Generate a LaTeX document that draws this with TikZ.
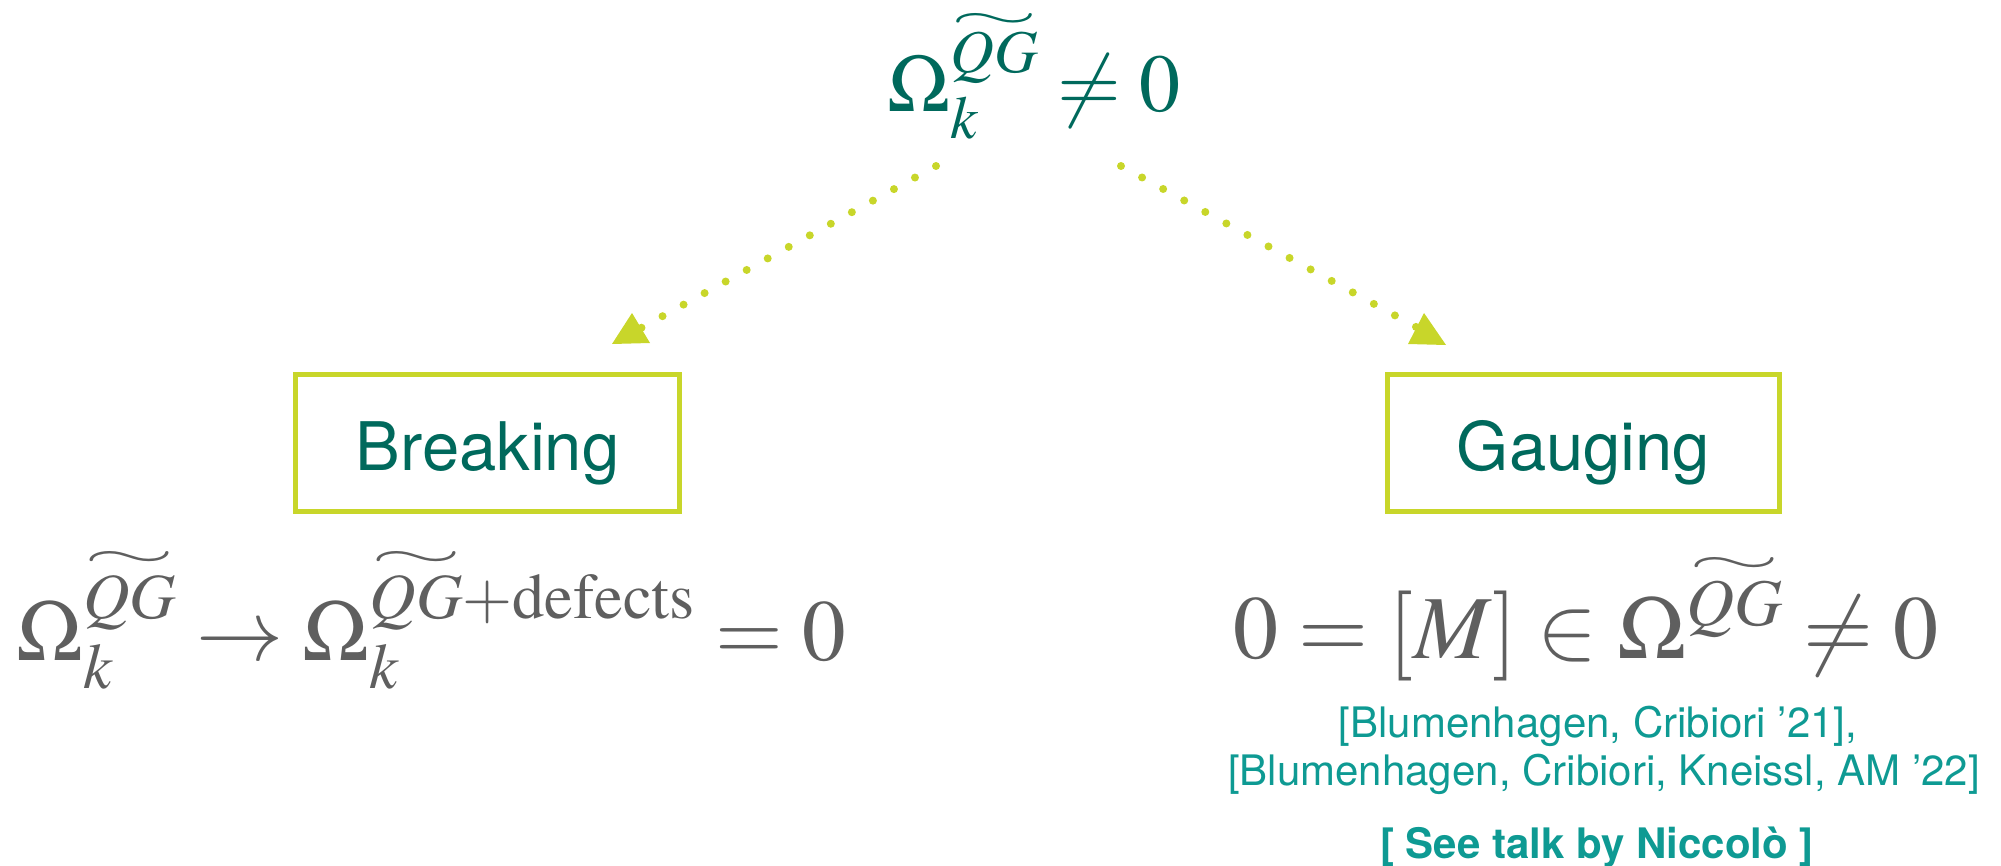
\documentclass[tikz,border=0pt]{standalone}
\usepackage[no-math]{fontspec}
\usepackage{amsmath}
\usepackage{mathptmx}
\usetikzlibrary{calc}
\newfontfamily\hel{TeX Gyre Heros}
\definecolor{tealdark}{HTML}{00695C}
\definecolor{limeg}{HTML}{C8D62A}
\definecolor{graytxt}{HTML}{5F5F5F}
\definecolor{citeteal}{HTML}{0E9A93}
\newcommand\wq[3]{\overset{\raisebox{-#3}[0pt][0pt]{\resizebox{#1}{#2}{$\sim$}}}{QG}}
\tikzset{
  box/.style={draw=limeg, line width=2.5pt, text=tealdark,
    font=\hel\fontsize{33.5}{40}\selectfont, minimum height=68.5pt,
    text height=27pt, text depth=0pt, inner sep=0pt},
  dotline/.style={draw=limeg, line width=4pt, line cap=round,
    dash pattern=on 0pt off 12pt},
  tipfill/.style={fill=limeg},
  bigmath/.style={text=graytxt, anchor=base, inner sep=0pt},
  cite/.style={font=\hel\fontsize{21}{24}\selectfont, text=citeteal, anchor=base, inner sep=0pt}
}
\begin{document}
\begin{tikzpicture}[x=0.5pt,y=-0.5pt]
\useasboundingbox (0,0) rectangle (2001,866);
\node[font=\fontsize{41}{45}\selectfont, text=tealdark, anchor=base, inner sep=0pt] (top) at (1034,112) {$\Omega_k^{\wq{44pt}{7.5pt}{4.5pt}}\neq 0$};
\node[box, minimum width=192pt] (brk) at (487.5,443) {Breaking};
\node[box, minimum width=196pt] (gau) at (1583.5,443) {Gauging};
\coordinate (a1) at (936,166);
\coordinate (b1) at (641,328);
\coordinate (a2) at (1121,166);
\coordinate (b2) at (1418,328);
\draw[dotline] (a1) -- (b1);
\draw[dotline] (a2) -- (b2);
\fill[tipfill] ($(b1)+(-9,-15)$) -- ($(b1)+(-29,16)$) -- ($(b1)+(9,15)$) -- cycle;
\fill[tipfill] ($(b2)+(6,-15)$) -- ($(b2)+(-10,16)$) -- ($(b2)+(28,17)$) -- cycle;
\node[bigmath, font=\fontsize{43.5}{48}\selectfont] (bl) at (431,660) {$\Omega_k^{\wq{46pt}{8pt}{5.5pt}}\rightarrow\Omega_k^{\wq{46pt}{8pt}{5.5pt}+\mathrm{defects}}=0$};
\node[bigmath, font=\fontsize{45}{50}\selectfont] (br) at (1586,658) {$0=[M]\in\Omega^{\wq{46pt}{8pt}{5.5pt}}\neq 0$};
\node[cite] (c1) at (1598,737) {[Blumenhagen, Cribiori ’21],};
\node[cite] (c2) at (1604,785) {[Blumenhagen, Cribiori, Kneissl, AM ’22]};
\node[cite, font=\hel\bfseries\fontsize{21}{24}\selectfont] (talk) at (1597,858) {[ See talk by Niccolò ]};
\end{tikzpicture}
\end{document}
